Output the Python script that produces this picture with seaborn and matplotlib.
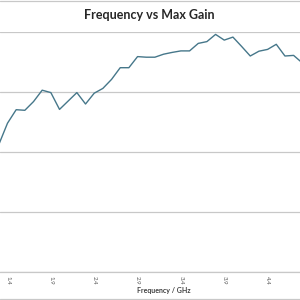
import matplotlib
matplotlib.use("Agg")
import matplotlib.pyplot as plt
import seaborn as sns
import pandas as pd
from matplotlib.lines import Line2D

freq = [1.3, 1.4, 1.5, 1.6, 1.7, 1.8, 1.9, 2.0, 2.1, 2.2, 2.3, 2.4, 2.5, 2.6,
        2.7, 2.8, 2.9, 3.0, 3.1, 3.2, 3.3, 3.4, 3.5, 3.6, 3.7, 3.8, 3.9, 4.0,
        4.1, 4.2, 4.3, 4.4, 4.5, 4.6, 4.7, 4.8]
gain = [4.25, 4.96, 5.41, 5.39, 5.68, 6.06, 5.98, 5.42, 5.70, 5.98, 5.60, 5.96,
        6.12, 6.42, 6.81, 6.81, 7.18, 7.16, 7.16, 7.26, 7.32, 7.37, 7.37, 7.62,
        7.68, 7.92, 7.73, 7.83, 7.52, 7.20, 7.36, 7.42, 7.59, 7.20, 7.22, 6.97]
tick_vals = [1.4, 1.9, 2.4, 2.9, 3.4, 3.9, 4.4]
tick_labels = ["1.4", "1.9", "2.4", "2.9", "3.4", "3.9", "4.4"]
y_grid = [0, 2, 4, 6, 8]

df = pd.DataFrame({"freq": freq, "gain": gain})

sns.set_theme(style="white")
plt.rcParams["font.family"] = ["Lato", "DejaVu Sans"]

fig = plt.figure(figsize=(3, 3), dpi=100)
ax = fig.add_axes([0, 1 - 272 / 300, 1, 240 / 300])

sns.lineplot(data=df, x="freq", y="gain", ax=ax, color="#46778A", linewidth=1.0)

ax.set_xlim(1.3135, 4.7737)
ax.set_ylim(0, 8)
ax.set_yticks(y_grid)
ax.set_yticklabels([])
ax.tick_params(axis="y", length=0)
ax.yaxis.grid(True, color="#C8C8C8", linewidth=0.9)
ax.xaxis.grid(False)
ax.set_xticks(tick_vals)
ax.set_xticklabels(tick_labels, rotation=270, fontsize=4.4, color="#595959")
ax.tick_params(axis="x", length=0, pad=3)
for s in ["left", "right", "top"]:
    ax.spines[s].set_visible(False)
ax.spines["bottom"].set_color("#C8C8C8")
ax.spines["bottom"].set_linewidth(0.9)
ax.set_xlabel("")
ax.set_ylabel("")

fig.text(0.497, 1 - 15 / 300, "Frequency vs Max Gain", ha="center", va="center",
         fontsize=9, fontweight="bold", color="#262626")
fig.text(164 / 300, 1 - 290 / 300, "Frequency / GHz", ha="center", va="center",
         fontsize=5, fontweight="bold", color="#404040")

fig.add_artist(Line2D([0, 1], [0.998, 0.998], color="#C8C8C8", linewidth=0.9,
                      transform=fig.transFigure))
fig.add_artist(Line2D([0, 1], [0.003, 0.003], color="#C8C8C8", linewidth=0.9,
                      transform=fig.transFigure))

fig.savefig("out.png", dpi=100)
